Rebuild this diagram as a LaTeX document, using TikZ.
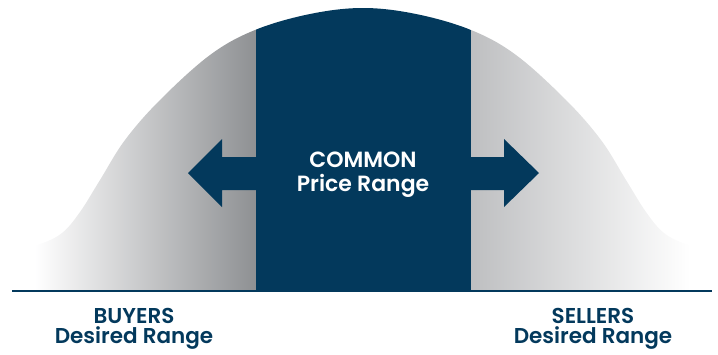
\documentclass[tikz,border=0pt]{standalone}
\usepackage{fontspec}
\setmainfont{Poppins}[BoldFont={Poppins SemiBold}]
\definecolor{navy}{RGB}{3,57,92}
\definecolor{shadeleft}{RGB}{142,144,147}
\definecolor{shaderight}{RGB}{190,191,193}
\begin{document}
\begin{tikzpicture}[x=1pt,y=-1pt,
				hightext/.style={text=white,anchor=base,font=\fontsize{22}{24}\selectfont\bfseries},
				lowtext/.style={text=navy,anchor=base,font=\fontsize{21.5}{24}\selectfont\bfseries}]
\useasboundingbox (0,0) rectangle (718,354);
% bell curve
\begin{scope}
\clip plot[smooth,tension=0.6] coordinates {(20,247) (40,244) (62,233) (80,212) (100,180) (125,140) (160,100) (210,55) (255,30) (310,14) (363,8) (416,14) (471,30) (516,55) (566,100) (601,140) (626,180) (646,212) (664,233) (686,244) (706,247)} -- (706,290) -- (20,290) -- cycle;
\shade[left color=white,right color=shadeleft] (35,0) rectangle (256,290);
\fill[navy] (256,0) rectangle (471,290);
\shade[left color=shaderight,right color=white] (471,0) rectangle (690,290);
\end{scope}
% arrows
\fill[navy] (256,157) -- (222,157) -- (222,139) -- (188,173) -- (222,207) -- (222,190) -- (256,190) -- cycle;
\fill[navy] (471,157) -- (504,157) -- (504,139) -- (539,173) -- (504,207) -- (504,190) -- (471,190) -- cycle;
% axis
\draw[navy,line width=2pt] (12,291) -- (712,291);
\node[hightext] (common) at (363,167) {COMMON};
\node[hightext] (price) at (363,191.5) {Price Range};
\node[lowtext] (buyers) at (134,323) {BUYERS};
\node[lowtext] (buyersrange) at (134,343.5) {Desired Range};
\node[lowtext] (sellers) at (593,323) {SELLERS};
\node[lowtext] (sellersrange) at (593,343.5) {Desired Range};
\end{tikzpicture}
\end{document}
